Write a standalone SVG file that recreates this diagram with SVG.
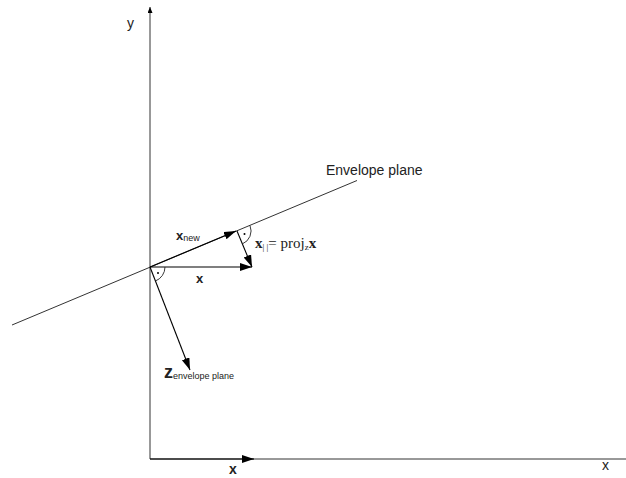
<svg xmlns="http://www.w3.org/2000/svg" width="626" height="478" viewBox="0 0 626 478">
<style>
.axis{stroke:#333;stroke-width:1;fill:none}
.vec{stroke:#000;stroke-width:1.1;fill:none}
.mark{stroke:#222;stroke-width:0.9;fill:none}
.sans{font-family:"Liberation Sans",Arial,sans-serif;fill:#222}
.serif{font-family:"Liberation Serif","Times New Roman",serif;fill:#222}
</style>
<defs>
<marker id="ah" markerUnits="userSpaceOnUse" markerWidth="13" markerHeight="9" refX="12" refY="4" orient="auto">
<path d="M0,0 L12,4 L0,8 z" fill="#000"/>
</marker>
<marker id="ahs" markerUnits="userSpaceOnUse" markerWidth="8" markerHeight="6" refX="6" refY="2.5" orient="auto">
<path d="M0,0 L6,2.5 L0,5 z" fill="#000"/>
</marker>
</defs>
<g id="connectors">
<line id="y-axis" class="axis" x1="150" y1="459" x2="150" y2="7" marker-end="url(#ahs)"/>
<line id="x-axis" class="axis" x1="150" y1="459" x2="626" y2="459"/>
<line id="plane" class="axis" x1="12" y1="325" x2="357" y2="180.5"/>
<line id="x-bottom" class="vec" x1="150" y1="459" x2="254" y2="459" marker-end="url(#ah)"/>
<line id="x-new" class="vec" x1="150" y1="267" x2="236" y2="231" marker-end="url(#ah)"/>
<line id="x-vec" class="vec" x1="150" y1="267" x2="252" y2="267" marker-end="url(#ah)"/>
<line id="x-par" class="vec" x1="237" y1="231" x2="252" y2="267" marker-end="url(#ah)"/>
<line id="z-vec" class="vec" x1="150" y1="267" x2="190" y2="370" marker-end="url(#ah)"/>
<path id="ra-origin" class="mark" d="M165,267 A15,15 0 0 1 155.4,281"/>
<circle cx="158" cy="273" r="1" fill="#000"/>
<path id="ra-proj" class="mark" d="M250,225.6 A14,14 0 0 1 242.4,243.9"/>
<circle cx="244.5" cy="234" r="1" fill="#000"/>
</g>
<g id="label-y"><text class="sans" x="127" y="28" font-size="14">y</text></g>
<g id="label-x-axis"><text class="sans" x="602" y="470" font-size="14">x</text></g>
<g id="label-x-bottom"><text class="sans" x="229" y="474" font-size="14" font-weight="bold">x</text></g>
<g id="label-x"><text class="sans" x="196" y="283" font-size="13" font-weight="bold">x</text></g>
<g id="label-xnew"><text class="sans" x="176" y="240" font-size="13" font-weight="bold">x<tspan font-size="9" font-weight="normal" dy="1">new</tspan></text></g>
<g id="label-xpar"><text class="serif" x="255" y="248" font-size="15"><tspan font-weight="bold">x</tspan><tspan font-size="9" dy="2">| |</tspan><tspan dy="-2">= proj</tspan><tspan font-size="9" dy="2">z</tspan><tspan font-weight="bold" dy="-2">x</tspan></text></g>
<g id="label-envelope"><text class="sans" x="326" y="175" font-size="14">Envelope plane</text></g>
<g id="label-z"><text class="sans" x="164" y="378" font-size="18" font-weight="bold">z<tspan font-size="9" font-weight="normal" dy="1">envelope plane</tspan></text></g>
</svg>
